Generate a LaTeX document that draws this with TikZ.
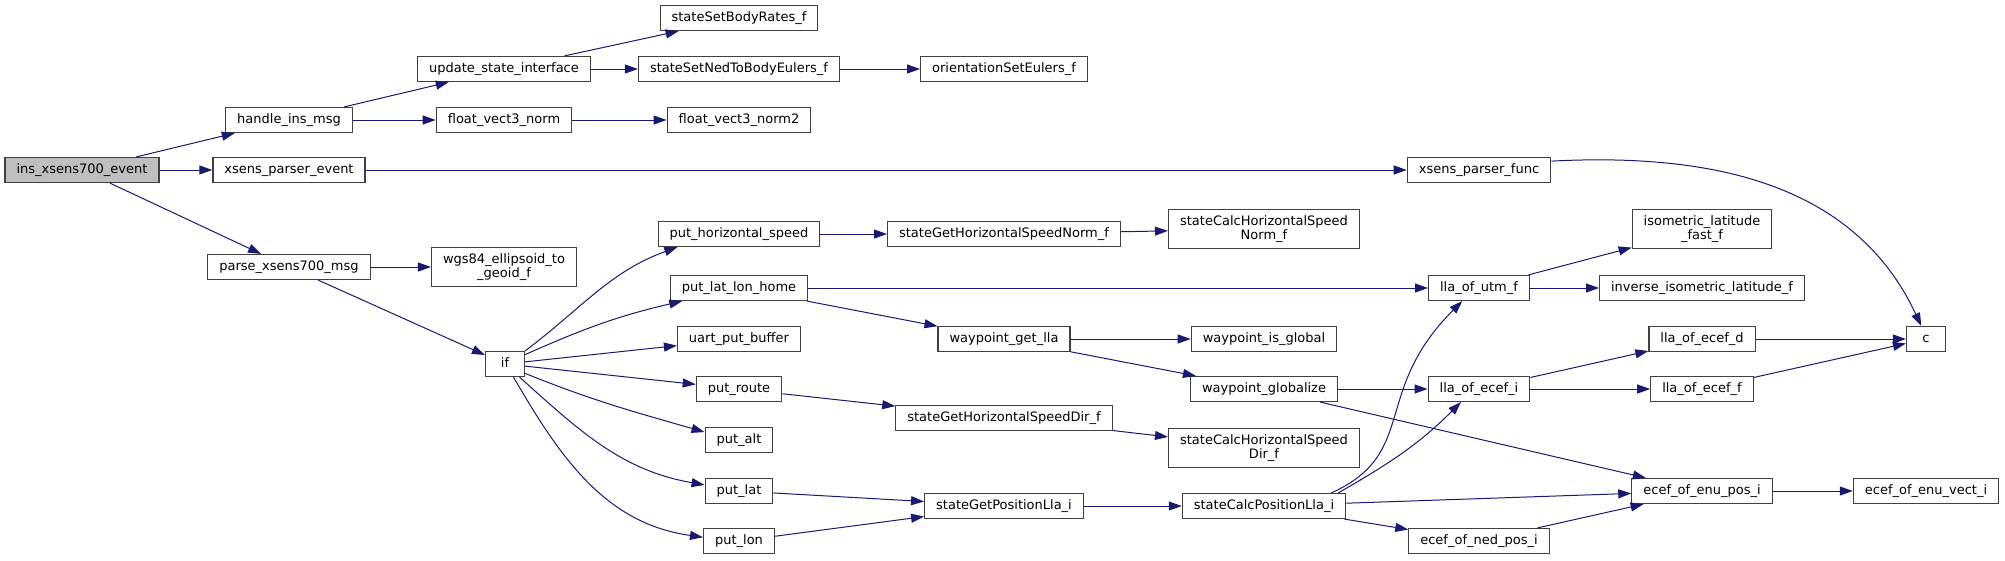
\documentclass[tikz,border=0pt]{standalone}
\usepackage{fontspec}
\setmainfont{DejaVu Sans}
\usetikzlibrary{arrows.meta}
\definecolor{edgeblue}{HTML}{191970}
\definecolor{boxline}{HTML}{404040}
\definecolor{rootgray}{HTML}{BFBFBF}
\tikzset{
  fnode/.style={
    rectangle, draw=boxline, line width=1.2pt, fill=white,
    font=\fontsize{13}{14.5}\selectfont, inner xsep=11.5pt, inner ysep=6pt,
    minimum height=25pt, minimum width=39pt, text height=9.6pt, text depth=3.2pt
  },
  fnodetwo/.style={fnode, text height={}, text depth={}, align=center},
  rootnode/.style={fnode, fill=rootgray},
  callarrow/.style={-{Triangle[length=13pt,width=9pt]}, line width=1pt, color=edgeblue},
}

\begin{document}
\begin{tikzpicture}[x=1pt, y=-1pt]
  \useasboundingbox (0,0) rectangle (2005,560);
  % caller
  \node[rootnode] (ins) at (82,170) {ins\_xsens700\_event};
  % first level
  \node[fnode] (handle) at (289,120) {handle\_ins\_msg};
  \node[fnode] (xpe) at (289,170) {xsens\_parser\_event};
  \node[fnode] (parse) at (289,267) {parse\_xsens700\_msg};
  % second level
  \node[fnode] (usi) at (504,69) {update\_state\_interface};
  \node[fnode] (fvn) at (504,120) {float\_vect3\_norm};
  \node[fnodetwo] (wgs) at (504,267) {wgs84\_ellipsoid\_to\\\_geoid\_f};
  \node[fnode] (if) at (505,364) {if};
  % third level
  \node[fnode] (ssbr) at (739,18) {stateSetBodyRates\_f};
  \node[fnode] (ssne) at (739,69) {stateSetNedToBodyEulers\_f};
  \node[fnode] (fvn2) at (739,120) {float\_vect3\_norm2};
  \node[fnode] (phs) at (739,234) {put\_horizontal\_speed};
  \node[fnode] (pllh) at (739,288) {put\_lat\_lon\_home};
  \node[fnode] (upb) at (739,339) {uart\_put\_buffer};
  \node[fnode] (proute) at (739,389) {put\_route};
  \node[fnode] (palt) at (739,440) {put\_alt};
  \node[fnode] (plat) at (739,491) {put\_lat};
  \node[fnode] (plon) at (739,541) {put\_lon};
  % fourth level
  \node[fnode] (ose) at (1004,69) {orientationSetEulers\_f};
  \node[fnode] (sghsn) at (1004,234) {stateGetHorizontalSpeedNorm\_f};
  \node[fnode] (wgl) at (1004,339) {waypoint\_get\_lla};
  \node[fnode] (sghsd) at (1004,418) {stateGetHorizontalSpeedDir\_f};
  \node[fnode] (sgpl) at (1004,506) {stateGetPositionLla\_i};
  % fifth level
  \node[fnodetwo] (schsn) at (1264,229) {stateCalcHorizontalSpeed\\Norm\_f};
  \node[fnode] (wig) at (1264,339) {waypoint\_is\_global};
  \node[fnode] (wgz) at (1264,389) {waypoint\_globalize};
  \node[fnodetwo] (schsd) at (1264,448) {stateCalcHorizontalSpeed\\Dir\_f};
  \node[fnode] (scpl) at (1264,506) {stateCalcPositionLla\_i};
  % sixth level
  \node[fnode] (xpf) at (1479,170) {xsens\_parser\_func};
  \node[fnode] (llautm) at (1479,288) {lla\_of\_utm\_f};
  \node[fnode] (llaei) at (1479,389) {lla\_of\_ecef\_i};
  \node[fnode] (eonp) at (1479,541) {ecef\_of\_ned\_pos\_i};
  % seventh level
  \node[fnodetwo] (ilff) at (1702,229) {isometric\_latitude\\\_fast\_f};
  \node[fnode] (iilf) at (1702,288) {inverse\_isometric\_latitude\_f};
  \node[fnode] (llaed) at (1702,339) {lla\_of\_ecef\_d};
  \node[fnode] (llaef) at (1702,389) {lla\_of\_ecef\_f};
  \node[fnode] (eoep) at (1702,491) {ecef\_of\_enu\_pos\_i};
  % last level
  \node[fnode] (c) at (1926,339) {c};
  \node[fnode] (eoev) at (1926,491) {ecef\_of\_enu\_vect\_i};

  % straight calls
  \foreach \a/\b in {ins/handle,ins/xpe,ins/parse,handle/usi,handle/fvn,usi/ssbr,
      usi/ssne,ssne/ose,fvn/fvn2,xpe/xpf,parse/wgs,parse/if,if/upb,if/proute,
      phs/sghsn,sghsn/schsn,pllh/llautm,pllh/wgl,wgl/wig,wgl/wgz,proute/sghsd,
      sghsd/schsd,wgz/llaei,wgz/eoep,llautm/ilff,llautm/iilf,llaei/llaed,
      llaei/llaef,llaed/c,llaef/c,plat/sgpl,plon/sgpl,sgpl/scpl,scpl/eoep,
      scpl/eonp,eonp/eoep,eoep/eoev}
    \draw[callarrow] (\a) -- (\b);
  % curved calls
  \draw[callarrow] (xpf.7) to[out=3, in=115] (c.110);
  \draw[callarrow] (if.north east) to[out=37, in=200] (phs.192);
  \draw[callarrow] (if.25) to[out=24, in=193] (pllh.193);
  \draw[callarrow] (if.-25) to[out=-22, in=164] (palt.167);
  \draw[callarrow] (if.-42) to[out=-42, in=170] (plat.170);
  \draw[callarrow] (if.-57) to[out=-60, in=172] (plon.174);
  \draw[callarrow] (scpl.11) .. controls (1419,453) and (1371,392) .. (llautm.218);
  \draw[callarrow] (scpl.10) to[out=30, in=225] (llaei.216);
\end{tikzpicture}
\end{document}
